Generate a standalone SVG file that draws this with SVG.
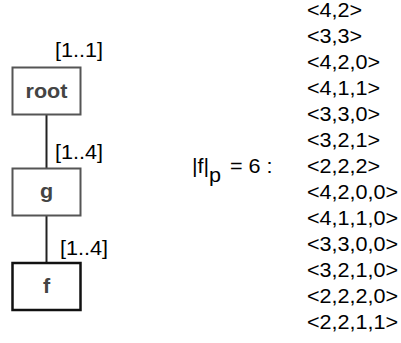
<svg xmlns="http://www.w3.org/2000/svg" width="401" height="343" viewBox="0 0 401 343">
<style>
  text { font-family: "Liberation Sans", Arial, Helvetica, sans-serif; font-size: 20px; fill: #000; }
  .node rect { fill: #fff; stroke: #555; stroke-width: 2; }
  .node.leaf rect { stroke: #111; stroke-width: 2.5; }
  .node text { font-weight: bold; fill: #444; text-anchor: middle; }
  .edge { stroke: #222; stroke-width: 2; fill: none; }
</style>
<rect width="401" height="343" fill="#fff"/>
<g id="connectors">
  <line class="edge" x1="46.5" y1="115" x2="46.5" y2="168"/>
  <line class="edge" x1="46.5" y1="215" x2="46.5" y2="263"/>
</g>
<g id="node-root" class="node">
  <rect x="12.5" y="67.5" width="68" height="47"/>
  <text transform="translate(46.5,98) scale(1.08,1)">root</text>
</g>
<g id="node-g" class="node">
  <rect x="12.5" y="168.5" width="68" height="47"/>
  <text transform="translate(46.5,198) scale(1.08,1)">g</text>
</g>
<g id="node-f" class="node leaf">
  <rect x="12.5" y="263" width="68" height="47"/>
  <text transform="translate(46.5,293) scale(1.08,1)">f</text>
</g>
<g id="labels">
  <text transform="translate(55,57) scale(1.08,1)">[1..1]</text>
  <text transform="translate(55,159) scale(1.08,1)">[1..4]</text>
  <text transform="translate(60,255) scale(1.08,1)">[1..4]</text>
</g>
<g id="formula">
  <text transform="translate(192,172.5) scale(1.08,1)">|f|</text>
  <text transform="translate(209,182) scale(1.08,1)">p</text>
  <text transform="translate(230,172.5) scale(1.08,1)">= 6 :</text>
</g>
<g id="list">
  <text transform="translate(307,17) scale(1.08,1)">&lt;4,2&gt;</text>
  <text transform="translate(307,43) scale(1.08,1)">&lt;3,3&gt;</text>
  <text transform="translate(307,69) scale(1.08,1)">&lt;4,2,0&gt;</text>
  <text transform="translate(307,95) scale(1.08,1)">&lt;4,1,1&gt;</text>
  <text transform="translate(307,121) scale(1.08,1)">&lt;3,3,0&gt;</text>
  <text transform="translate(307,147) scale(1.08,1)">&lt;3,2,1&gt;</text>
  <text transform="translate(307,173) scale(1.08,1)">&lt;2,2,2&gt;</text>
  <text transform="translate(307,199) scale(1.08,1)">&lt;4,2,0,0&gt;</text>
  <text transform="translate(307,225) scale(1.08,1)">&lt;4,1,1,0&gt;</text>
  <text transform="translate(307,251) scale(1.08,1)">&lt;3,3,0,0&gt;</text>
  <text transform="translate(307,277) scale(1.08,1)">&lt;3,2,1,0&gt;</text>
  <text transform="translate(307,303) scale(1.08,1)">&lt;2,2,2,0&gt;</text>
  <text transform="translate(307,329) scale(1.08,1)">&lt;2,2,1,1&gt;</text>
</g>
</svg>
